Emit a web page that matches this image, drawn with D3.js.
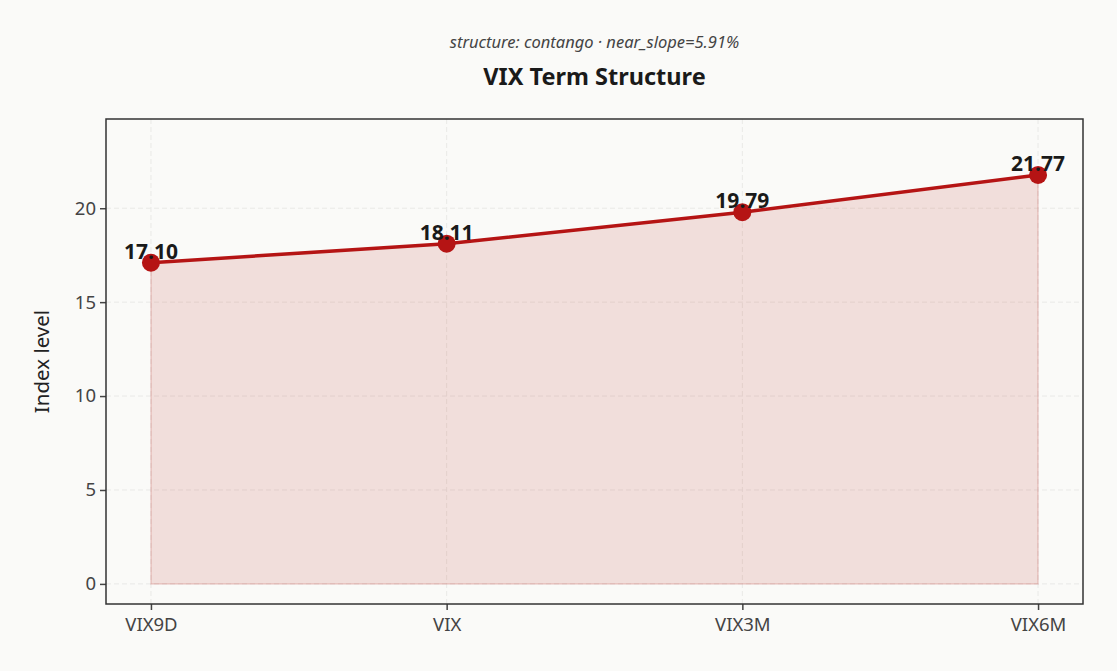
<!DOCTYPE html>
<html>
<head>
<meta charset="utf-8">
<script src="https://cdn.jsdelivr.net/npm/d3@7"></script>
<style>
  html, body { margin: 0; padding: 0; background: #fafaf8; }
  svg { display: block; font-family: "Noto Sans", "Open Sans", sans-serif; }
</style>
</head>
<body>
<div id="chart"></div>
<script>
// datos
var categorias = ['VIX9D', 'VIX', 'VIX3M', 'VIX6M'];
var valores = [17.10, 18.11, 19.79, 21.77];
var ticksY = [0, 5, 10, 15, 20];
var titulo = 'VIX Term Structure';
var subtitulo = 'structure: contango \u00b7 near_slope=5.91%';

var width = 1117, height = 671;
var margin = { top: 119, right: 34, bottom: 67, left: 106 };
var innerW = width - margin.left - margin.right;
var innerH = height - margin.top - margin.bottom;

var svg = d3.select('#chart').append('svg')
    .attr('width', width)
    .attr('height', height);

svg.append('rect').attr('width', width).attr('height', height).attr('fill', '#fafaf8');

// escalas
var x = d3.scaleLinear().domain([-0.152, categorias.length - 1 + 0.152]).range([0, innerW]);
var y = d3.scaleLinear().domain([-1.07, 24.75]).range([innerH, 0]);

var g = svg.append('g').attr('transform', 'translate(' + margin.left + ',' + margin.top + ')');

// grid
g.append('g').selectAll('line').data(ticksY).enter().append('line')
    .attr('x1', 0).attr('x2', innerW)
    .attr('y1', function (d) { return y(d); }).attr('y2', function (d) { return y(d); })
    .attr('stroke', '#e9e9e7').attr('stroke-width', 1).attr('stroke-dasharray', '5,3');
g.append('g').selectAll('line').data(categorias).enter().append('line')
    .attr('y1', 0).attr('y2', innerH)
    .attr('x1', function (d, i) { return x(i); }).attr('x2', function (d, i) { return x(i); })
    .attr('stroke', '#e9e9e7').attr('stroke-width', 1).attr('stroke-dasharray', '5,3');

// area
var area = d3.area()
    .x(function (d, i) { return x(i); })
    .y0(y(0))
    .y1(function (d) { return y(d); });
g.append('path').datum(valores)
    .attr('d', area)
    .attr('fill', 'rgba(185, 35, 25, 0.13)')
    .attr('stroke', 'rgba(185, 35, 25, 0.18)')
    .attr('stroke-width', 1.5);

// linea
var linea = d3.line()
    .x(function (d, i) { return x(i); })
    .y(function (d) { return y(d); });
g.append('path').datum(valores)
    .attr('d', linea)
    .attr('fill', 'none')
    .attr('stroke', '#b51414')
    .attr('stroke-width', 3.5);

// puntos
g.append('g').selectAll('circle').data(valores).enter().append('circle')
    .attr('cx', function (d, i) { return x(i); })
    .attr('cy', function (d) { return y(d); })
    .attr('r', 9)
    .attr('fill', '#b51414');

// etiquetas
g.append('g').selectAll('text').data(valores).enter().append('text')
    .attr('x', function (d, i) { return x(i); })
    .attr('y', function (d) { return y(d) - 4; })
    .attr('text-anchor', 'middle')
    .attr('font-size', '21px')
    .attr('font-weight', 'bold')
    .attr('fill', '#1a1a1a')
    .text(function (d) { return d.toFixed(2); });

// ejes
var ejeY = g.append('g').call(d3.axisLeft(y).tickValues(ticksY).tickSize(6).tickPadding(4));
var ejeX = g.append('g').attr('transform', 'translate(0,' + innerH + ')')
    .call(d3.axisBottom(x).tickValues(d3.range(categorias.length))
        .tickFormat(function (i) { return categorias[i]; }).tickSize(6).tickPadding(8));
[ejeY, ejeX].forEach(function (e) {
    e.select('.domain').remove();
    e.selectAll('.tick line').attr('stroke', '#444').attr('stroke-width', 1.5);
    e.selectAll('.tick text').attr('fill', '#444').attr('font-size', '18.5px')
        .attr('font-family', '"Noto Sans", "Open Sans", sans-serif');
});

// marco
g.append('rect').attr('width', innerW).attr('height', innerH)
    .attr('fill', 'none').attr('stroke', '#333').attr('stroke-width', 1.5);

// textos
svg.append('text')
    .attr('transform', 'translate(49,' + (margin.top + innerH / 2) + ') rotate(-90)')
    .attr('text-anchor', 'middle')
    .attr('font-size', '20.5px')
    .attr('fill', '#222')
    .text('Index level');

svg.append('text')
    .attr('x', margin.left + innerW / 2).attr('y', 85)
    .attr('text-anchor', 'middle')
    .attr('font-size', '23.5px')
    .attr('font-weight', 'bold')
    .attr('fill', '#1a1a1a')
    .text(titulo);

svg.append('text')
    .attr('x', margin.left + innerW / 2).attr('y', 48)
    .attr('text-anchor', 'middle')
    .attr('font-size', '16.5px')
    .attr('font-style', 'italic')
    .attr('fill', '#444')
    .text(subtitulo);
</script>
</body>
</html>
